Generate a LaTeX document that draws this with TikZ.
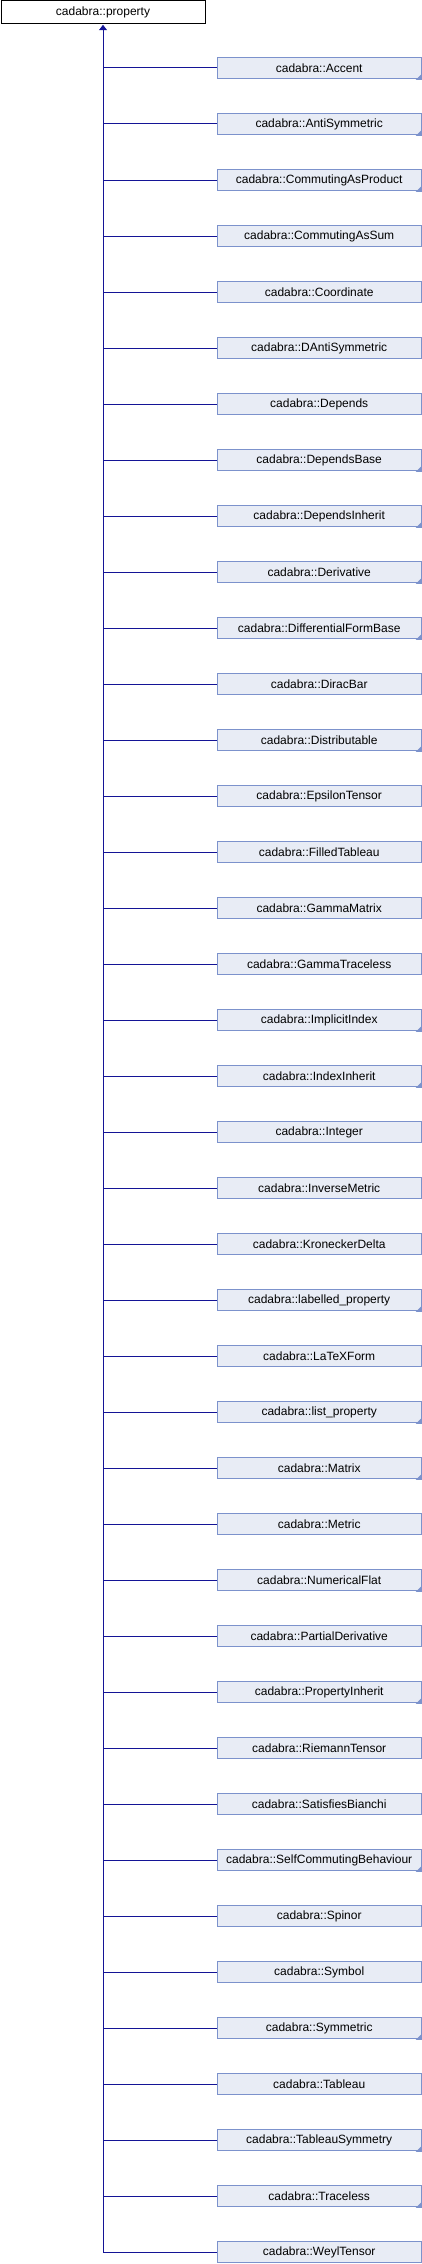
\documentclass[tikz,border=0pt]{standalone}
\usepackage{fontspec}
\setmainfont{Liberation Sans}
\usetikzlibrary{arrows.meta}
\definecolor{edgecol}{RGB}{20,20,150}
\definecolor{boxfill}{RGB}{232,236,245}
\definecolor{boxline}{RGB}{124,146,204}
\tikzset{
  basebox/.style={draw=black, fill=white, line width=1pt, minimum width=204pt, minimum height=22.3pt, inner sep=0pt, font=\fontsize{12}{14}\selectfont},
  childbox/.style={draw=boxline, fill=boxfill, line width=1pt, minimum width=204pt, minimum height=21.6pt, inner sep=0pt, font=\fontsize{12}{14}\selectfont},
  edge/.style={draw=edgecol, line width=1pt},
  markcorner/.style={fill=boxline}
}
\begin{document}
\begin{tikzpicture}
\useasboundingbox (0,0) rectangle (422pt,-2264pt);
\node[basebox] (parent) at (103pt,-11.9pt) {cadabra::property};
\foreach \n/\m [count=\i from 0] in {
 Accent/1, AntiSymmetric/1, CommutingAsProduct/1, CommutingAsSum/0, Coordinate/0,
 DAntiSymmetric/0, Depends/0, DependsBase/1, DependsInherit/1, Derivative/1,
 DifferentialFormBase/1, DiracBar/0, Distributable/1, EpsilonTensor/0, FilledTableau/0,
 GammaMatrix/0, GammaTraceless/0, ImplicitIndex/1, IndexInherit/1, Integer/0,
 InverseMetric/0, KroneckerDelta/0, labelled\_property/1, LaTeXForm/0, list\_property/1,
 Matrix/1, Metric/0, NumericalFlat/1, PartialDerivative/0, PropertyInherit/1,
 RiemannTensor/0, SatisfiesBianchi/0, SelfCommutingBehaviour/1, Spinor/0, Symbol/0,
 Symmetric/1, Tableau/0, TableauSymmetry/1, Traceless/1, WeylTensor/0}{
  \pgfmathsetmacro\yy{-68-56*\i}
  \node[childbox] (c\i) at (319.2pt,\yy pt) {cadabra::\n};
  \draw[edge] (parent.south |- c\i.west) -- (c\i.west);
  \ifnum\m=1
    \fill[markcorner] (c\i.south east) ++(0.5pt,-0.5pt) -- ++(-6.5pt,0pt) -- ++(6.5pt,6.5pt) -- cycle;
  \fi
}
\draw[edge, {Triangle[length=5.5pt,width=8pt]}-] ([yshift=-1.2pt]parent.south) -- (parent.south |- c39.west);
\end{tikzpicture}
\end{document}
